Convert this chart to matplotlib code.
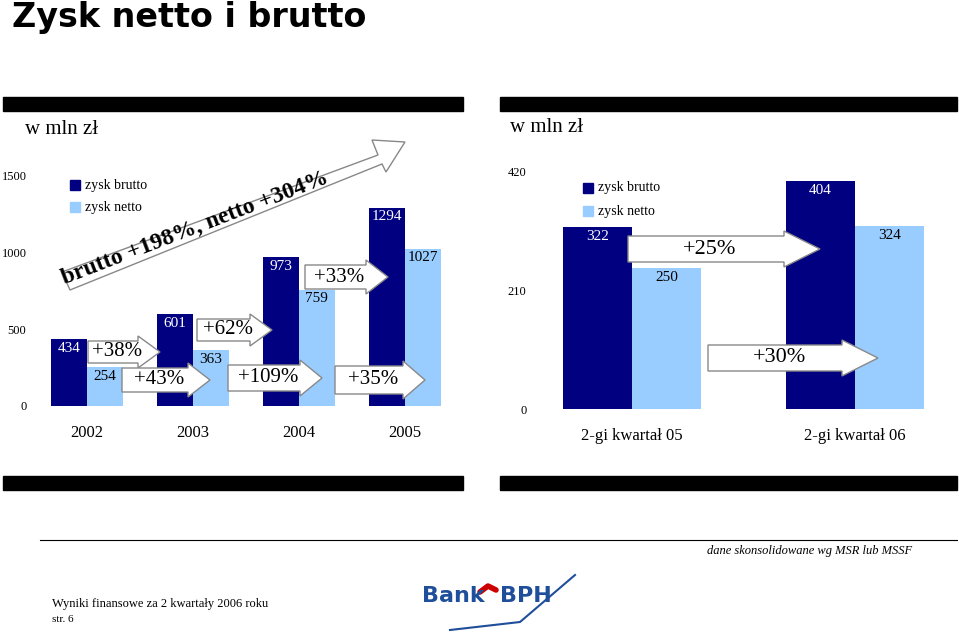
import matplotlib.pyplot as plt
from matplotlib.patches import Polygon, Rectangle

W, H = 959, 632
SERIF = "Liberation Serif"
DARK = "#000080"
LIGHT = "#99CCFF"

years = ["2002", "2003", "2004", "2005"]
brutto_year = [434, 601, 973, 1294]
netto_year = [254, 363, 759, 1027]

quarters = ["2-gi kwartał 05", "2-gi kwartał 06"]
brutto_q = [322, 404]
netto_q = [250, 324]

fig = plt.figure(figsize=(W / 100, H / 100), dpi=100)


def px_axes(x0, y0, x1, y1):
    # pixel box (top-left origin) -> figure axes
    return fig.add_axes([x0 / W, 1 - y1 / H, (x1 - x0) / W, (y1 - y0) / H])


def bar_chart(ax, cats, b, n, ymax, ticks, xlim, bw=0.34):
    xs = range(len(cats))
    ax.bar([x - bw / 2 for x in xs], b, width=bw, color=DARK, zorder=2)
    ax.bar([x + bw / 2 for x in xs], n, width=bw, color=LIGHT, zorder=2)
    ax.set_ylim(0, ymax)
    ax.set_xlim(*xlim)
    ax.set_yticks(ticks)
    ax.set_yticklabels([str(t) for t in ticks], fontfamily=SERIF, fontsize=9)
    ax.set_xticks(list(xs))
    ax.set_xticklabels(cats, fontfamily=SERIF, fontsize=12)
    ax.tick_params(length=0, pad=14)
    ax.tick_params(axis="y", pad=4)
    for s in ax.spines.values():
        s.set_visible(False)
    ax.patch.set_alpha(0)
    for i, (vb, vn) in enumerate(zip(b, n)):
        ax.text(i - bw / 2, vb - ymax * 0.012, str(vb), fontsize=11, fontfamily=SERIF,
                color="white", ha="center", va="top", zorder=8)
        ax.text(i + bw / 2, vn - ymax * 0.012, str(vn), fontsize=11, fontfamily=SERIF,
                ha="center", va="top", zorder=8)


axl = px_axes(32, 176, 463, 406)
bar_chart(axl, years, brutto_year, netto_year, 1500, [0, 500, 1000, 1500], (-0.52, 3.55))
axr = px_axes(532, 172, 957, 409)
bar_chart(axr, quarters, brutto_q, netto_q, 420, [0, 210, 420], (-0.45, 1.46), bw=0.31)

# overlay in pixel coordinates
ov = fig.add_axes([0, 0, 1, 1], zorder=5)
ov.set_xlim(0, W)
ov.set_ylim(H, 0)
ov.axis("off")
ov.patch.set_alpha(0)

ov.text(12, 18, "Zysk netto i brutto", fontsize=24, fontweight="bold", va="center")
for x0, x1, y in [(3, 463, 104), (500, 957, 104), (3, 463, 483), (500, 957, 483)]:
    ov.add_patch(Rectangle((x0, y - 7), x1 - x0, 14, color="black"))
ov.text(25, 130, "w mln zł", fontsize=15, fontfamily=SERIF, va="center")
ov.text(510, 128, "w mln zł", fontsize=15, fontfamily=SERIF, va="center")

for (x, y, c, t) in [(75, 185, DARK, "zysk brutto"), (75, 207, LIGHT, "zysk netto"),
                     (588, 188, DARK, "zysk brutto"), (588, 211, LIGHT, "zysk netto")]:
    ov.add_patch(Rectangle((x - 5, y - 5), 10, 10, color=c))
    ov.text(x + 10, y, t, fontsize=10, fontfamily=SERIF, va="center")


def arrow(x0, x1, yc, h, label, fs=15, head=22):
    pts = [(x0, yc - h / 2), (x1 - head, yc - h / 2), (x1 - head, yc - h / 2 - 5),
           (x1, yc), (x1 - head, yc + h / 2 + 5), (x1 - head, yc + h / 2), (x0, yc + h / 2)]
    ov.add_patch(Polygon(pts, closed=True, fc="white", ec="#888888", lw=1, zorder=6))
    ov.text((x0 + x1 - head) / 2 + 4, yc, label, fontsize=fs, fontfamily=SERIF,
            ha="center", va="center", zorder=7)


# big diagonal arrow
ov.add_patch(Polygon([(62, 272), (378, 155), (372, 140), (405, 142), (386, 172),
                      (382, 164), (70, 290)], closed=True, fc="white", ec="#888888",
                     lw=1, zorder=4))
ov.text(195, 228, "brutto +198%, netto +304%", fontsize=17, fontweight="bold",
        fontfamily=SERIF, rotation=21, ha="center", va="center", zorder=7)

arrow(88, 160, 352, 22, "+38%")
arrow(122, 210, 380, 24, "+43%")
arrow(197, 272, 330, 22, "+62%")
arrow(228, 322, 378, 26, "+109%")
arrow(305, 388, 277, 24, "+33%")
arrow(335, 425, 380, 28, "+35%")
arrow(628, 820, 249, 26, "+25%", fs=16, head=36)
arrow(708, 878, 358, 26, "+30%", fs=16, head=36)

# footer
ov.plot([40, 957], [540, 540], color="black", lw=0.8)
ov.text(912, 551, "dane skonsolidowane wg MSR lub MSSF", fontsize=9, fontstyle="italic",
        fontfamily=SERIF, ha="right", va="center")
ov.text(52, 604, "Wyniki finansowe za 2 kwartały 2006 roku", fontsize=9,
        fontfamily=SERIF, va="center")
ov.text(52, 620, "str. 6", fontsize=8, fontfamily=SERIF, va="center")
ov.text(422, 596, "Bank", fontsize=16, fontweight="bold", color="#1F4E9A", va="center")
ov.text(500, 596, "BPH", fontsize=16, fontweight="bold", color="#1F4E9A", va="center")
ov.plot([480, 488, 496], [592, 586, 590], color="#CC0000", lw=4, solid_capstyle="round")
ov.plot([450, 520, 575], [630, 622, 575], color="#1F4E9A", lw=1.5)

fig.savefig("out.png", dpi=100)
